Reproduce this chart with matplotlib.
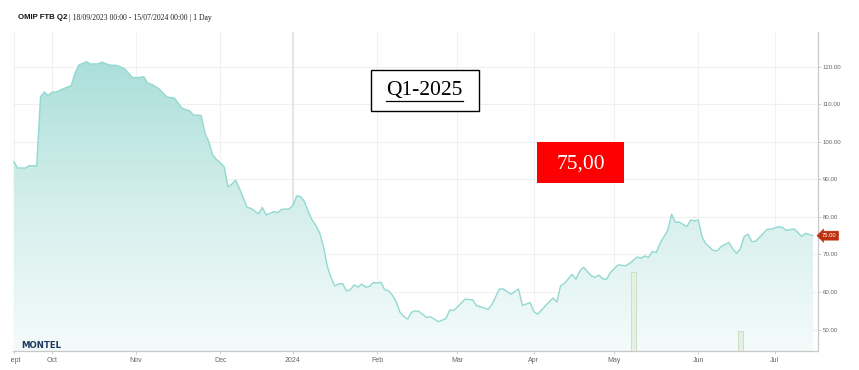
import numpy as np
import pandas as pd
import matplotlib
matplotlib.use("Agg")
import matplotlib.pyplot as plt
from matplotlib.colors import LinearSegmentedColormap
from matplotlib.transforms import Bbox, blended_transform_factory
from matplotlib.lines import Line2D

# ---------------- data ----------------
title_bold = "OMIP FTB Q2"
title_rest = " | 18/09/2023 00:00 - 15/07/2024 00:00 | 1 Day"
overlay_label = "Q1-2025"
overlay_price = "75,00"
last_price = 75.00

holidays = ["2023-12-25", "2023-12-26", "2024-01-01", "2024-03-29", "2024-04-01", "2024-05-01"]

price_dates = [
    "2023-09-18", "2023-09-19", "2023-09-21", "2023-09-22", "2023-09-26", "2023-09-27", "2023-09-28", "2023-09-29",
    "2023-10-02", "2023-10-03", "2023-10-05", "2023-10-09", "2023-10-10", "2023-10-11", "2023-10-13", "2023-10-16",
    "2023-10-18", "2023-10-19", "2023-10-23", "2023-10-25", "2023-10-27", "2023-10-31",
    "2023-11-02", "2023-11-03", "2023-11-06", "2023-11-07", "2023-11-09", "2023-11-13", "2023-11-15", "2023-11-17",
    "2023-11-21", "2023-11-22", "2023-11-24", "2023-11-27", "2023-11-28", "2023-11-29", "2023-11-30",
    "2023-12-04", "2023-12-05", "2023-12-06", "2023-12-07", "2023-12-08", "2023-12-12", "2023-12-13", "2023-12-15",
    "2023-12-18", "2023-12-19", "2023-12-21", "2023-12-22", "2023-12-27", "2023-12-29",
    "2024-01-02", "2024-01-03", "2024-01-04", "2024-01-05", "2024-01-08", "2024-01-09", "2024-01-10", "2024-01-11",
    "2024-01-12", "2024-01-15", "2024-01-16", "2024-01-17", "2024-01-18", "2024-01-19", "2024-01-22", "2024-01-23",
    "2024-01-24", "2024-01-25", "2024-01-26", "2024-01-29", "2024-01-30", "2024-01-31",
    "2024-02-01", "2024-02-02", "2024-02-05", "2024-02-06", "2024-02-07", "2024-02-08", "2024-02-09", "2024-02-12",
    "2024-02-13", "2024-02-14", "2024-02-15", "2024-02-16", "2024-02-20", "2024-02-21", "2024-02-23", "2024-02-27",
    "2024-02-28", "2024-02-29",
    "2024-03-01", "2024-03-05", "2024-03-07", "2024-03-08", "2024-03-13", "2024-03-14", "2024-03-18", "2024-03-19",
    "2024-03-21", "2024-03-25", "2024-03-26", "2024-03-28",
    "2024-04-02", "2024-04-03", "2024-04-05", "2024-04-09", "2024-04-10", "2024-04-11", "2024-04-12", "2024-04-16",
    "2024-04-17", "2024-04-18", "2024-04-19", "2024-04-23", "2024-04-24", "2024-04-25", "2024-04-26", "2024-04-29",
    "2024-04-30",
    "2024-05-03", "2024-05-07", "2024-05-08", "2024-05-10", "2024-05-13", "2024-05-14", "2024-05-15", "2024-05-16",
    "2024-05-17", "2024-05-20", "2024-05-22", "2024-05-23", "2024-05-24", "2024-05-27", "2024-05-29", "2024-05-30",
    "2024-05-31",
    "2024-06-03", "2024-06-04", "2024-06-05", "2024-06-07", "2024-06-10", "2024-06-11", "2024-06-13", "2024-06-14",
    "2024-06-17", "2024-06-18", "2024-06-19", "2024-06-20", "2024-06-21", "2024-06-24", "2024-06-27", "2024-06-28",
    "2024-07-02", "2024-07-03", "2024-07-04", "2024-07-08", "2024-07-09", "2024-07-10", "2024-07-11", "2024-07-15",
]
price_values = [
    94.7, 93.0, 93.0, 93.6, 93.6, 112.0, 113.2, 112.3,
    113.2, 113.2, 114.1, 114.9, 118.2, 120.4, 121.3, 120.7,
    120.7, 121.2, 120.4, 120.3, 119.4, 117.1,
    117.1, 117.3, 115.6, 115.3, 114.1, 111.9, 111.6, 108.9,
    108.2, 107.1, 107.0, 102.3, 100.0, 96.5, 95.3,
    93.4, 88.0, 88.7, 89.8, 87.6, 82.5, 82.3, 80.8,
    82.5, 80.5, 81.4, 81.1, 82.0, 82.1,
    83.0, 85.6, 85.4, 84.1, 81.4, 79.2, 77.7, 75.7,
    72.1, 66.8, 63.7, 61.6, 62.2, 62.2, 60.3, 60.6,
    61.9, 61.3, 62.1, 61.3, 61.5, 62.5,
    62.4, 62.6, 60.6, 60.3, 59.2, 57.4, 54.6, 53.5,
    52.8, 54.6, 55.0, 54.8, 53.2, 53.4, 52.1, 52.9,
    55.2, 55.1,
    56.0, 58.1, 57.9, 56.4, 55.4, 56.6, 60.8, 60.8,
    59.4, 60.8, 56.4, 57.2,
    54.8, 54.1, 56.3, 58.4, 57.3, 61.7, 62.3, 64.7,
    63.4, 65.6, 66.6, 64.3, 63.9, 64.5, 63.5, 63.4,
    65.2,
    67.2, 67.0, 67.6, 69.3, 69.0, 69.6, 69.2, 70.8,
    70.5, 73.0, 76.4, 80.7, 78.6, 78.6, 77.4, 79.2,
    78.9,
    79.2, 74.6, 72.8, 71.0, 71.0, 72.1, 73.2, 71.5,
    70.3, 71.5, 74.8, 75.4, 73.4, 73.5, 76.7, 76.7,
    77.4, 77.2, 76.4, 76.8, 75.9, 74.8, 75.6, 75.0,
]

volume_dates = ["2024-05-09", "2024-06-18"]
volume_values = [24.8, 6.3]

month_labels = ["Sept", "Oct", "Nov", "Dec", "2024", "Feb", "Mar", "Apr", "May", "Jun", "Jul"]
y_ticks = [50, 60, 70, 80, 90, 100, 110, 120]

# ---------------- trading-day (ordinal) axis ----------------
days = pd.bdate_range("2023-09-18", "2024-07-15")
days = days.drop(pd.to_datetime(holidays))
xp = days.get_indexer(pd.to_datetime(price_dates)).astype(float)
yp = np.array(price_values)
xv = days.get_indexer(pd.to_datetime(volume_dates)).astype(float)

month_keys = days.to_period("M")
first_idx = [0] + [i for i in range(1, len(days)) if month_keys[i] != month_keys[i - 1]]

# ---------------- figure ----------------
W, H = 859, 370
fig = plt.figure(figsize=(W / 100, H / 100), dpi=100)
fig.patch.set_facecolor("white")

px_l, px_r, px_t, px_b = 13, 818, 32, 351
ax = fig.add_axes([px_l / W, (H - px_b) / H, (px_r - px_l) / W, (px_b - px_t) / H])
ymin, ymax = 44.3, 129.2
xmin, xmax = -0.2, 210.3
ax.set_xlim(xmin, xmax)
ax.set_ylim(ymin, ymax)

# grid
for yt in y_ticks:
    ax.axhline(yt, color="#f0f0f0", lw=0.8, zorder=0)
for lab, i in zip(month_labels, first_idx):
    if lab == "2024":
        ax.axvline(i, color="#e4e4e4", lw=1.3, zorder=0)
    else:
        ax.axvline(i, color="#f1f1f1", lw=0.8, zorder=0)

# area with gradient
poly = ax.fill_between(xp, yp, ymin, color="none", lw=0)
cmap = LinearSegmentedColormap.from_list("g", ["#f4fbfb", "#d5efec", "#abdfda"])
grad = np.linspace(0, 1, 256).reshape(-1, 1)
im = ax.imshow(grad, extent=[xmin, xmax, ymin, yp.max()], origin="lower", aspect="auto",
               cmap=cmap, zorder=1, interpolation="bicubic")
im.set_clip_path(poly.get_paths()[0], transform=ax.transData)
ax.plot(xp, yp, color="#92d9d1", lw=1.0, zorder=2)
ax.set_xlim(xmin, xmax)
ax.set_ylim(ymin, ymax)

# volume bars
ax2 = ax.twinx()
ax2.set_ylim(0, 100)
ax2.bar(xv, volume_values, width=1.2, color="#e4f0e0", edgecolor="#c8dcc2", lw=0.6, zorder=3)
ax2.set_yticks([])
for s in ax2.spines.values():
    s.set_visible(False)

# spines / ticks
for s in ["left", "top"]:
    ax.spines[s].set_visible(False)
ax.spines["right"].set_color("#c8c8c8")
ax.spines["bottom"].set_color("#c8c8c8")
ax.spines["right"].set_linewidth(0.9)
ax.spines["bottom"].set_linewidth(0.9)
ax.yaxis.tick_right()
ax.set_yticks(y_ticks)
ax.set_yticklabels([f"{v:.2f}" for v in y_ticks], fontsize=4.4, color="#666666",
                   family="Liberation Sans")
ax.tick_params(axis="y", length=2.5, width=0.6, color="#c8c8c8", pad=1)
ax.set_xticks(first_idx)
ax.set_xticklabels(month_labels, fontsize=5, color="#666666", family="Liberation Sans")
ax.tick_params(axis="x", length=2, width=0.6, color="#c8c8c8", pad=2.5)
lab0 = ax.get_xticklabels()[0]
lab0.set_clip_on(True)
lab0.set_clip_box(Bbox([[10.5, 0], [W, H]]))

# last price tag
tr = blended_transform_factory(ax.transAxes, ax.transData)
ax.text(1.0 + 4 / (px_r - px_l), last_price, f"{last_price:.2f}", transform=tr,
        fontsize=4.2, color="white", va="center", ha="left", family="Liberation Sans",
        bbox=dict(boxstyle="larrow,pad=0.35", fc="#c0300f", ec="#c0300f", lw=0.3), zorder=6)

# titles
t1 = fig.text(18 / W, 1 - 17.5 / H, title_bold, fontsize=5.6, fontweight="bold",
              family="Liberation Sans", va="center", ha="left", color="#111111")
fig.canvas.draw()
r = fig.canvas.get_renderer()
bb = t1.get_window_extent(r)
fig.text(bb.x1 / W, 1 - 17.5 / H, title_rest, fontsize=5.6, family="Liberation Serif",
         va="center", ha="left", color="#222222")

# montel logo
fig.text(21.5 / W, 1 - 345 / H, "MONTEL", fontsize=6.2, fontweight="bold",
         family="DejaVu Sans", color="#1f3a5f", va="center", ha="left")

# Q1-2025 box
fig.patches.append(plt.Rectangle((370.5 / W, 1 - 111 / H), 108 / W, 41.5 / H,
                                 transform=fig.transFigure, fc="white", ec="black", lw=1.0, zorder=7))
tq = fig.text(424.5 / W, 1 - 91 / H, overlay_label, fontsize=15.5, family="Liberation Serif",
              ha="center", va="center", color="black", zorder=8)
fig.canvas.draw()
bq = tq.get_window_extent(fig.canvas.get_renderer())
fig.lines.append(Line2D([bq.x0 / W, bq.x1 / W], [(H - 100.5) / H] * 2, transform=fig.transFigure,
                        color="black", lw=0.9, zorder=8))

# red price box
fig.patches.append(plt.Rectangle((536.7 / W, 1 - 182.7 / H), 87.6 / W, 40.4 / H,
                                 transform=fig.transFigure, fc="#ff0000", ec="none", zorder=7))
fig.text(580.5 / W, 1 - 164 / H, overlay_price, fontsize=15.5, family="Liberation Serif",
         ha="center", va="center", color="white", zorder=8)

fig.savefig("out.png", dpi=100)
